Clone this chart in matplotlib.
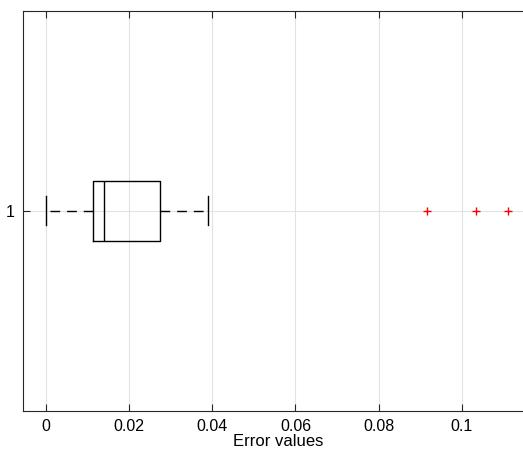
import matplotlib
matplotlib.use('Agg')
import matplotlib.pyplot as plt

plt.rcParams['font.family'] = ['Liberation Sans', 'DejaVu Sans']

# box statistics
labels = ['1']
q1 = [0.0112]
median = [0.0139]
q3 = [0.0274]
whisker_lo = [0.0]
whisker_hi = [0.0390]
outliers = [[0.0917, 0.1035, 0.1112]]

stats = []
for i in range(len(labels)):
    stats.append({'label': labels[i], 'q1': q1[i], 'med': median[i], 'q3': q3[i],
                  'whislo': whisker_lo[i], 'whishi': whisker_hi[i], 'fliers': outliers[i]})

fig = plt.figure(figsize=(5.23, 4.53), dpi=100)
# axes run past the right edge, like the cropped original
ax = fig.add_axes([23 / 523, 42 / 453, 510 / 523, 400.5 / 453])

ax.bxp(stats, positions=[1], vert=False, widths=0.15, capwidths=0.072,
       boxprops=dict(color='black', linewidth=1.0),
       medianprops=dict(color='black', linewidth=1.0),
       whiskerprops=dict(color='black', linewidth=1.0, linestyle=(0, (7, 5))),
       capprops=dict(color='black', linewidth=1.0),
       flierprops=dict(marker='+', markeredgecolor='red', markersize=6, linestyle='none'))

ax.set_xlim(-0.0056, 0.1172)
ax.set_ylim(0.5, 1.5)
ax.set_xticks([0, 0.02, 0.04, 0.06, 0.08, 0.1])
ax.set_xticklabels(['0', '0.02', '0.04', '0.06', '0.08', '0.1'])
ax.set_yticks([1])
ax.set_yticklabels(labels)

ax.grid(True, color='#e2e2e2', linewidth=0.8)
ax.set_axisbelow(True)
ax.tick_params(direction='in', length=5, width=0.8, colors='#262626',
               labelsize=11.5, top=True, right=True, labelcolor='black', pad=6)
for s in ax.spines.values():
    s.set_color('#262626')
    s.set_linewidth(0.8)

ax.set_xlabel('Error values', fontsize=12, labelpad=0)

fig.savefig('out.png', dpi=100)
